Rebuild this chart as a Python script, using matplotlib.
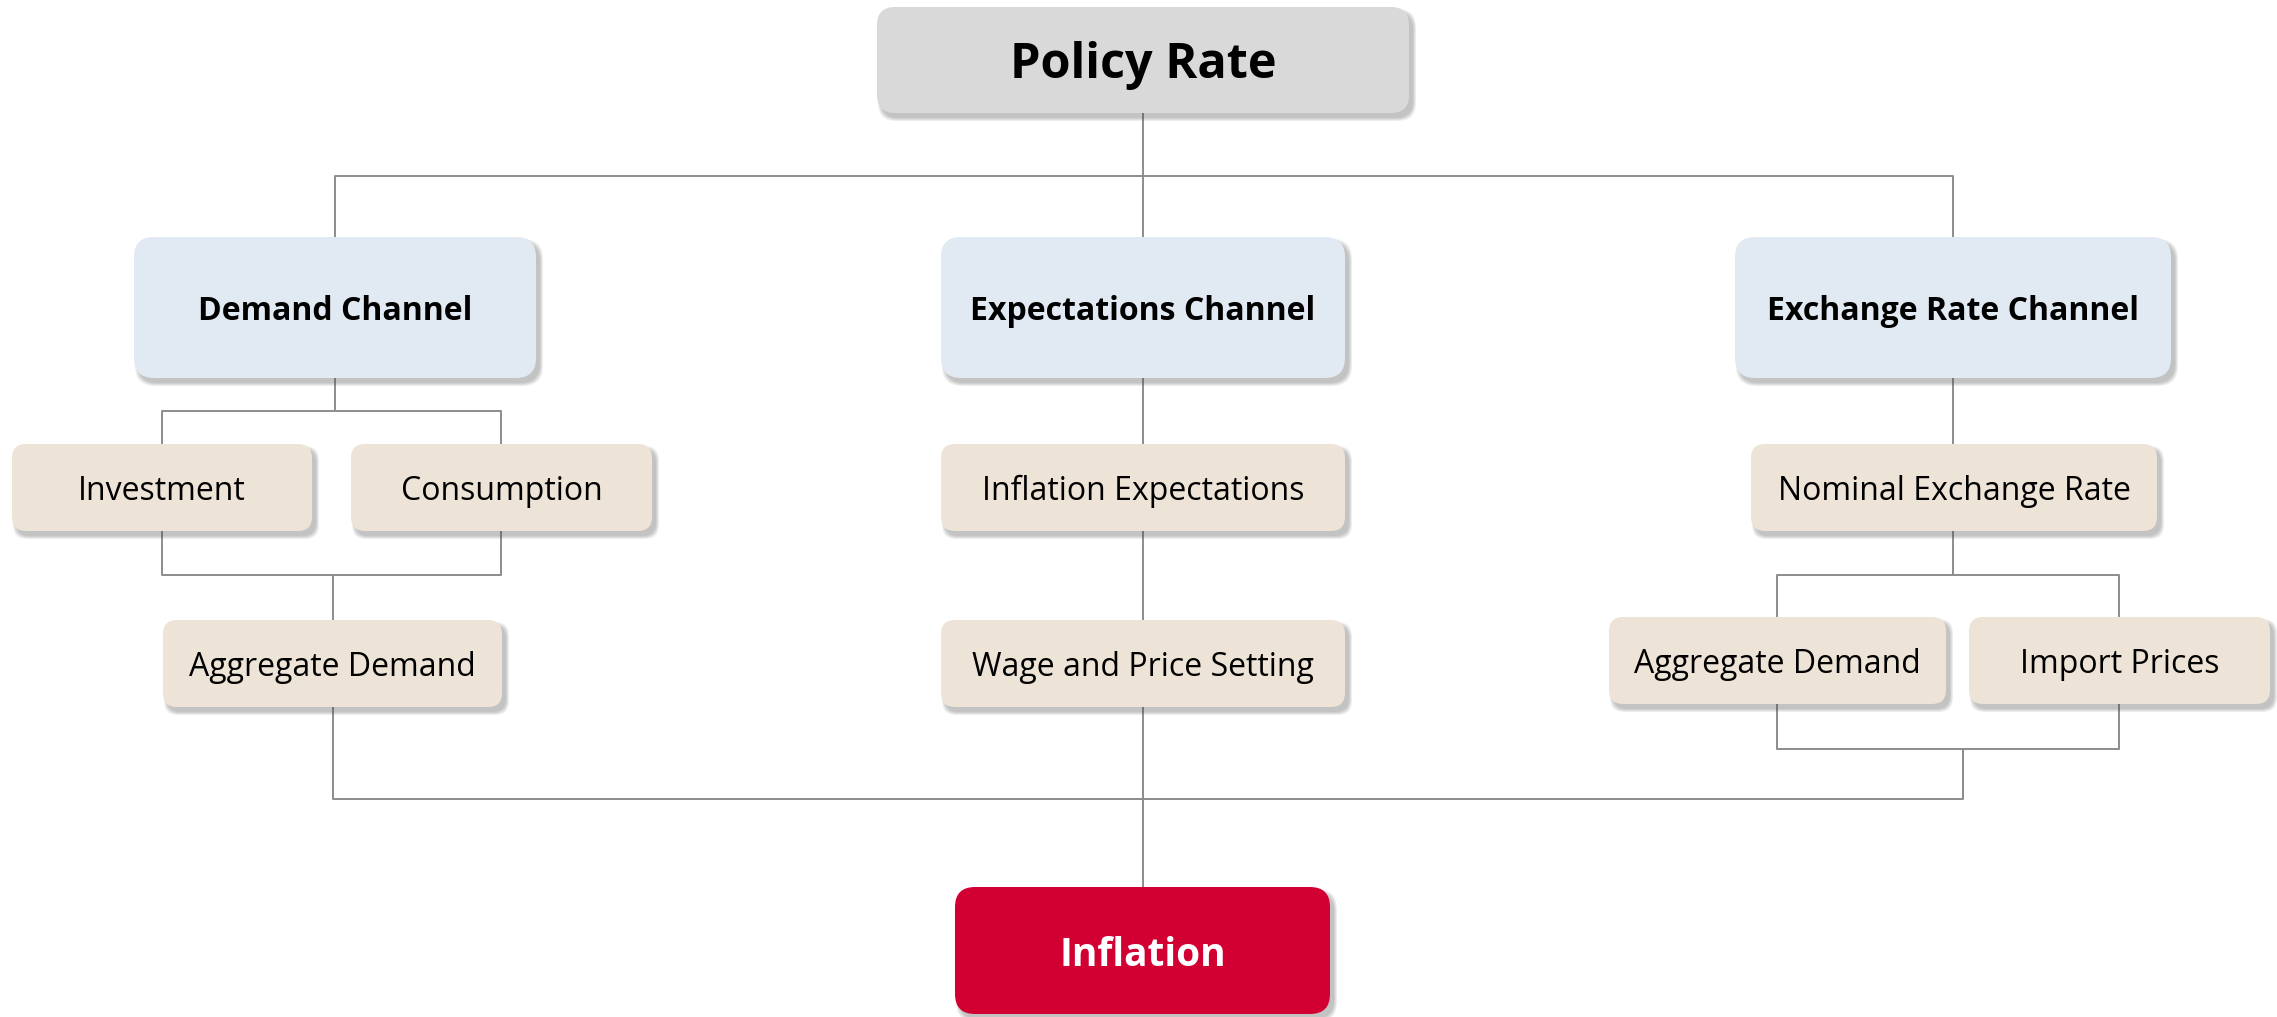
import matplotlib.pyplot as plt
from matplotlib.patches import FancyBboxPatch

plt.rcParams['font.family'] = ['Open Sans', 'DejaVu Sans']

# node labels
top_label = "Policy Rate"
channel_labels = ["Demand Channel", "Expectations Channel", "Exchange Rate Channel"]
demand_labels = ["Investment", "Consumption", "Aggregate Demand"]
expect_labels = ["Inflation Expectations", "Wage and Price Setting"]
fx_labels = ["Nominal Exchange Rate", "Aggregate Demand", "Import Prices"]
bottom_label = "Inflation"

# colours
GREY = "#d9d9d9"
BLUE = "#e1e9f2"
BEIGE = "#ede3d6"
RED = "#d20032"
LINE = "#8c8c8c"

W, H = 2277, 1017
fig = plt.figure(figsize=(W / 100, H / 100), dpi=100)
ax = fig.add_axes([0, 0, 1, 1])
ax.set_xlim(0, W)
ax.set_ylim(H, 0)
ax.axis('off')


def box(label, x0, y0, x1, y1, fc, size, weight='normal', color='black', r=16):
    w, h = x1 - x0, y1 - y0
    # soft drop shadow: stacked translucent layers
    for g in [6, 4.5, 3, 1.5, 0]:
        sh = FancyBboxPatch((x0 + 4 + r - g / 2, y0 + 5 + r - g / 2),
                            w - 2 * r + g, h - 2 * r + g,
                            boxstyle=f"round,pad={r},rounding_size={r}",
                            fc='#444444', ec='none', alpha=0.07, zorder=2)
        ax.add_patch(sh)
    p = FancyBboxPatch((x0 + r, y0 + r), w - 2 * r, h - 2 * r,
                       boxstyle=f"round,pad={r},rounding_size={r}",
                       fc=fc, ec='none', zorder=3)
    ax.add_patch(p)
    ax.text((x0 + x1) / 2, (y0 + y1) / 2, label, ha='center', va='center_baseline',
            fontsize=size, fontweight=weight, color=color, zorder=4)


def line(pts):
    xs, ys = zip(*pts)
    ax.plot(xs, ys, color=LINE, lw=1.4, zorder=1, solid_capstyle='butt')


# connectors
line([(1143, 113), (1143, 237)])
line([(335, 237), (335, 176), (1953, 176), (1953, 237)])
# demand branch
line([(335, 378), (335, 411)])
line([(162, 444), (162, 411), (501, 411), (501, 444)])
line([(162, 531), (162, 575), (501, 575), (501, 531)])
line([(333, 575), (333, 620)])
# expectations branch
line([(1143, 378), (1143, 444)])
line([(1143, 531), (1143, 620)])
line([(1143, 707), (1143, 887)])
# exchange rate branch
line([(1953, 378), (1953, 444)])
line([(1953, 531), (1953, 575)])
line([(1777, 617), (1777, 575), (2119, 575), (2119, 617)])
line([(1777, 704), (1777, 749), (2119, 749), (2119, 704)])
line([(1963, 749), (1963, 799)])
# merge to inflation
line([(333, 707), (333, 799), (1963, 799), (1963, 749)])

# boxes
box(top_label, 877, 7, 1409, 113, GREY, 35, 'bold', r=18)

box(channel_labels[0], 134, 237, 536, 378, BLUE, 23, 'bold', r=20)
box(channel_labels[1], 941, 237, 1345, 378, BLUE, 23, 'bold', r=20)
box(channel_labels[2], 1735, 237, 2171, 378, BLUE, 23, 'bold', r=20)

box(demand_labels[0], 12, 444, 312, 531, BEIGE, 23, r=14)
box(demand_labels[1], 351, 444, 652, 531, BEIGE, 23, r=14)
box(demand_labels[2], 163, 620, 502, 707, BEIGE, 23, r=14)

box(expect_labels[0], 941, 444, 1345, 531, BEIGE, 23, r=14)
box(expect_labels[1], 941, 620, 1345, 707, BEIGE, 23, r=14)

box(fx_labels[0], 1751, 444, 2157, 531, BEIGE, 23, r=14)
box(fx_labels[1], 1609, 617, 1946, 704, BEIGE, 23, r=14)
box(fx_labels[2], 1969, 617, 2270, 704, BEIGE, 23, r=14)

box(bottom_label, 955, 887, 1330, 1014, RED, 28, 'bold', color='white', r=20)

fig.savefig('out.png', dpi=100)
